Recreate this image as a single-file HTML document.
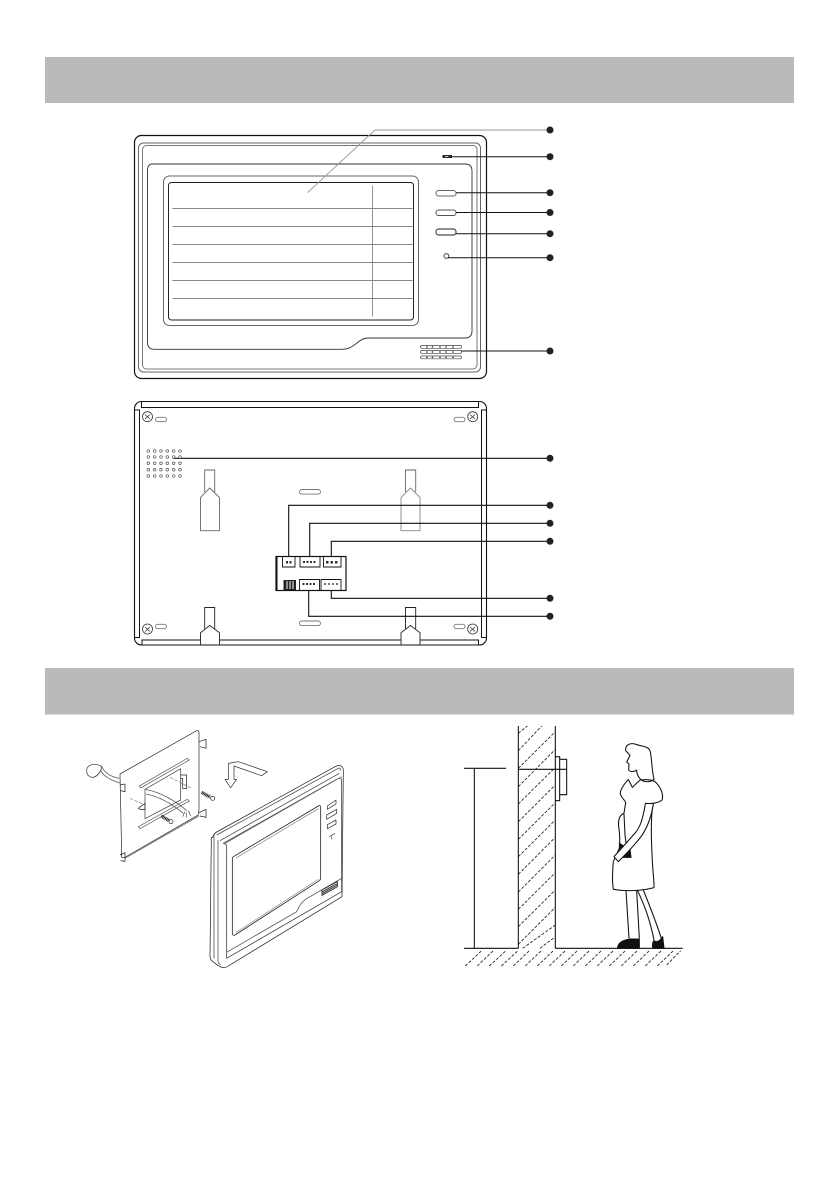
<!DOCTYPE html>
<html><head><meta charset="utf-8"><style>html,body{margin:0;padding:0;background:#fff}svg{display:block}</style></head>
<body>
<svg xmlns="http://www.w3.org/2000/svg" width="840" height="1192" viewBox="0 0 840 1192">
<rect width="840" height="1192" fill="#fff"/>
<rect x="45" y="57" width="749" height="46" fill="#bababa"/>
<rect x="45" y="668" width="749" height="46.5" fill="#bababa"/>

<!-- FRONT -->
<g fill="none" stroke="#111" stroke-width="1">
<rect x="134.5" y="135.5" width="352" height="243" rx="7" stroke-width="1.2"/>
<rect x="138.5" y="143" width="342" height="229" rx="5" stroke="#666"/>
<rect x="142.5" y="145.5" width="334.5" height="223.5" rx="4" stroke="#777"/>
<path d="M152 164H465Q472 164 472 171V331Q472 338 465 338H368C358 338 355 349.3 342 349.3H154Q147.5 349.3 147.5 342V171Q147.5 164 152 164Z" stroke="#333" stroke-width=".9"/>
<rect x="163.5" y="176" width="255" height="149.5" rx="6" stroke="#666"/>
<rect x="168.5" y="182.5" width="245" height="137.5" rx="3" stroke="#222"/>
<g stroke="#888" stroke-width=".9">
<path d="M172.5 208.5H412.5M172.5 226.5H412.5M172.5 244.5H412.5M172.5 262.5H412.5M172.5 280.5H412.5M172.5 298.5H412.5M372.5 185.5V316.5"/>
<path d="M307.5 192.7L375 130H550" stroke="#999"/>
</g>
<rect x="436" y="190.5" width="20" height="5.5" rx="2.5" stroke="#666"/>
<rect x="436" y="210" width="20" height="5.5" rx="2.5" stroke="#555"/>
<rect x="436" y="229" width="20" height="6" rx="2.5" stroke="#222"/>
<circle cx="446.4" cy="256" r="2.4" stroke="#444"/>
<path d="M447 156.7H550M456 192.7H550M456 212.5H550M456 233.7H550M448 257.7H550M461 351H550"/>
<g stroke="#444" stroke-width=".7">
<rect x="420.5" y="345.5" width="41" height="2.8" rx="1.4"/>
<rect x="420.5" y="350.5" width="41" height="2.8" rx="1.4"/>
<rect x="420.5" y="356" width="41" height="2.8" rx="1.4"/>
</g>
</g>
<rect x="442.5" y="155" width="9.5" height="3" fill="#222"/><rect x="445" y="156" width="3.5" height="1" fill="#ccc"/>
<g fill="#222">
<circle cx="550" cy="130" r="3.5"/><circle cx="550" cy="156.7" r="3.5"/><circle cx="550" cy="192.7" r="3.5"/><circle cx="550" cy="212.5" r="3.5"/><circle cx="550" cy="233.7" r="3.5"/><circle cx="550" cy="257.7" r="3.5"/><circle cx="550" cy="351" r="3.5"/>
</g>
<g fill="#555">
<circle cx="427" cy="347" r=".9"/><circle cx="432.5" cy="347" r=".9"/><circle cx="440" cy="347" r=".9"/><circle cx="446" cy="347" r=".9"/><circle cx="453" cy="347" r=".9"/>
<circle cx="427" cy="352" r=".9"/><circle cx="432.5" cy="352" r=".9"/><circle cx="440" cy="352" r=".9"/><circle cx="446" cy="352" r=".9"/><circle cx="453" cy="352" r=".9"/>
<circle cx="427" cy="357.4" r=".9"/><circle cx="432.5" cy="357.4" r=".9"/><circle cx="440" cy="357.4" r=".9"/><circle cx="446" cy="357.4" r=".9"/><circle cx="453" cy="357.4" r=".9"/>
</g>

<!-- BACK -->
<g fill="none" stroke="#111" stroke-width="1">
<rect x="134.5" y="401.5" width="352" height="243.5" rx="7" stroke-width="1.1"/>
<path d="M141.5 401.5V407.5H478.5V401.5M134.5 410H139.5V637.5H134.5M486.5 410H481.5V637.5H486.5M142 645V640H200.5M219.5 640H401M420 640H478.5V645"/>
<g stroke="#333" stroke-width=".8">
<circle cx="147.5" cy="416.7" r="5"/><circle cx="472.7" cy="416.7" r="5"/><circle cx="147.5" cy="629" r="5"/><circle cx="472.7" cy="629" r="5"/>
<path d="M145 414.5l5 4.5M150 414.5l-5 4.5M470 414.5l5 4.5M475 414.5l-5 4.5M145 627l5 4.5M150 627l-5 4.5M470 627l5 4.5M475 627l-5 4.5"/>
</g>
<g stroke="#777" stroke-width=".9">
<rect x="155.5" y="417.3" width="11" height="4.4" rx="2.2"/><rect x="454" y="417.3" width="11" height="4.4" rx="2.2"/>
<rect x="155.5" y="624.3" width="11" height="4.4" rx="2.2"/><rect x="454" y="624.3" width="11" height="4.4" rx="2.2"/>
<rect x="299.5" y="489.5" width="21" height="4.6" rx="2.3"/><rect x="299.5" y="621" width="21" height="4.6" rx="2.3"/>
</g>
<g stroke="#666" stroke-width=".9">
<path d="M204.7 492V470H214.7V492"/>
<path d="M209.7 488L219.5 497.5V530.7H200.5V497.5Z"/>
<path d="M405.5 492V470H415.7V492"/>
<path d="M410.5 488L420 497.5V530.7H401V497.5Z" stroke="#888"/>
<path d="M204.7 629V607.5H214.7V629" stroke="#222"/>
<path d="M405.5 629V607.5H415.7V629" stroke="#222"/>
</g>
<path d="M200.5 645V632.7L209.7 625.5L219.5 632.7V645M401 645V632.7L410.5 625.5L420 632.7V645" stroke="#333"/>
<rect x="276" y="556.5" width="70" height="34" stroke-width="1.2"/>
<path d="M276.5 556.5V590.5" stroke-width="2"/>
<g stroke-width=".9">
<path d="M282.5 556.5V567H295V556.5M300 556.5V567H320V556.5M323.5 556.5V567H341V556.5M299.5 590.5V579.5H319.5V590.5M321 590.5V579.5H341V590.5"/>
</g>
<path d="M173 458.3H550M288.7 556V505.3H550M309.7 556V523.3H550M331.3 556V541.3H550M331.3 590V598.3H550M308.7 590V616.3H550" stroke-width="1.1"/>
</g>
<rect x="283.5" y="580" width="12.5" height="10" fill="#222"/>
<path d="M287 581V589M290 581V589M293 581V589" stroke="#fff" stroke-width="1"/>
<g fill="#333">
<rect x="286" y="561" width="2" height="2.5"/><rect x="289.5" y="561" width="2" height="2.5"/>
<rect x="303" y="561" width="2" height="2"/><rect x="306.5" y="561" width="2" height="2"/><rect x="310" y="561" width="2" height="2"/><rect x="313.5" y="561" width="2" height="2"/>
<rect x="326" y="561" width="2.5" height="2.5"/><rect x="330.5" y="561" width="2.5" height="2.5"/><rect x="335" y="561" width="2.5" height="2.5"/>
<rect x="302.5" y="583" width="2" height="2"/><rect x="306" y="583" width="2" height="2"/><rect x="309.5" y="583" width="2" height="2"/><rect x="313" y="583" width="2" height="2"/>
<rect x="324" y="583" width="2" height="2" fill="#777"/><rect x="328" y="583" width="2" height="2" fill="#777"/><rect x="332" y="583" width="2" height="2" fill="#777"/><rect x="336" y="583" width="2" height="2" fill="#777"/>
</g>
<g fill="#222">
<circle cx="550" cy="458.3" r="3.5"/><circle cx="550" cy="505.3" r="3.5"/><circle cx="550" cy="523.3" r="3.5"/><circle cx="550" cy="541.3" r="3.5"/><circle cx="550" cy="598.3" r="3.5"/><circle cx="550" cy="616.3" r="3.5"/>
</g>
<g fill="#fff" stroke="#555" stroke-width=".7">
<circle cx="148.3" cy="451" r="1.3"/><circle cx="154.7" cy="451" r="1.3"/><circle cx="161" cy="451" r="1.3"/><circle cx="167.3" cy="451" r="1.3"/><circle cx="173.7" cy="451" r="1.3"/><circle cx="180" cy="451" r="1.3"/>
<circle cx="148.3" cy="457" r="1.3"/><circle cx="154.7" cy="457" r="1.3"/><circle cx="161" cy="457" r="1.3"/><circle cx="167.3" cy="457" r="1.3"/><circle cx="173.7" cy="457" r="1.3"/><circle cx="180" cy="457" r="1.3"/>
<circle cx="148.3" cy="463.3" r="1.3"/><circle cx="154.7" cy="463.3" r="1.3"/><circle cx="161" cy="463.3" r="1.3"/><circle cx="167.3" cy="463.3" r="1.3"/><circle cx="173.7" cy="463.3" r="1.3"/><circle cx="180" cy="463.3" r="1.3"/>
<circle cx="148.3" cy="469.7" r="1.3"/><circle cx="154.7" cy="469.7" r="1.3"/><circle cx="161" cy="469.7" r="1.3"/><circle cx="167.3" cy="469.7" r="1.3"/><circle cx="173.7" cy="469.7" r="1.3"/><circle cx="180" cy="469.7" r="1.3"/>
<circle cx="148.3" cy="476" r="1.3"/><circle cx="154.7" cy="476" r="1.3"/><circle cx="161" cy="476" r="1.3"/><circle cx="167.3" cy="476" r="1.3"/><circle cx="173.7" cy="476" r="1.3"/><circle cx="180" cy="476" r="1.3"/>
</g>

<!-- INSTALL -->
<g transform="translate(70,720) scale(.33333)" fill="none" stroke="#333" stroke-width="2.2" stroke-linejoin="round">
<!-- plate -->
<path d="M150 162L380 32Q387 30 387 40V270L385 285L165 412L155 412V400L150 162Z"/>
<path d="M165 415L387 288" stroke="#777"/>
<path d="M387 65L408 58V85L390 80M387 278L408 268V292L390 288M150 195L165 192V215L152 212M150 405L165 398V424L152 422" stroke="#222"/>
<!-- slots -->
<path d="M208 198L352 115L358 120L212 204ZM205 320L352 238L358 243L210 326Z" stroke="#666"/>
<path d="M225 208L332 146V240L225 296Z" stroke="#444"/>
<path d="M332 165H350V205H338V175H332" stroke="#222"/>
<path d="M205 265L225 250V268H210Z" stroke="#222"/>
<path d="M180 235L225 255M300 172L365 205" stroke="#888" stroke-dasharray="10 5"/>
<!-- cable -->
<path d="M225 208C270 215 320 245 350 272M228 222C270 230 310 255 340 280" stroke="#555"/>
<path d="M152 190C120 180 95 165 92 150M148 175C120 170 100 155 95 138" stroke="#555"/>
<path d="M50 152C50 135 70 128 92 137C100 145 85 168 70 172C58 172 50 165 50 152Z" stroke="#333"/>
<path d="M345 275L338 290M350 278L350 292M355 272L362 288" stroke="#444" stroke-width="2"/>
<!-- screws -->
<path d="M395 217L420 231M274 288L298 302" stroke="#222" stroke-width="10" stroke-dasharray="3 1.5"/>
<circle cx="428" cy="235" r="6"/><circle cx="303" cy="305" r="6"/>
<!-- arrow -->
<path d="M475 130L505 125L592 155L575 167L492 138V178H500L482 203L465 178H475Z" stroke-width="2.2"/>
<!-- monitor -->
<path d="M428 352Q430 342 440 336L795 140Q815 130 820 148L816 530L475 738Q462 748 445 737L425 722Q420 716 420 708L424 352Z" stroke="#222"/>
<path d="M440 345L805 145Q812 142 812 152M444 360V722Q444 730 452 735M432 345V715" stroke="#444"/>
<path d="M460 370L800 178Q815 170 815 182V515L470 715V378Q470 372 460 370Z" stroke="#333"/>
<path d="M450 362L808 160" stroke="#444"/>
<path d="M462 372L815 170" stroke="#666"/>
<path d="M490 410L745 258Q752 254 752 262V474Q752 480 745 484L495 645Q487 648 487 640V416Q487 412 490 410Z" stroke="#222" stroke-width="2.4"/>
<path d="M498 414L745 266M497 638L745 478" stroke="#666" stroke-width="1.6"/>
<path d="M470 697L680 575Q695 540 720 530L815 475" stroke="#444"/>
<path d="M756 510L802 484V500L756 526ZM756 516L802 490M756 521L802 495" stroke="#333" stroke-width="3"/>
<path d="M772 258L798 240V252L772 268ZM770 285L800 268V280L770 298ZM772 314L798 300V312L772 326ZM778 350L795 340M785 350V358" stroke="#333"/>
</g>

<!-- WALL + PERSON -->
<g transform="translate(450,720) scale(.33333)" fill="none" stroke="#111" stroke-width="3.2" stroke-linejoin="round">
<path d="M205 18V685M316 18V685M42 685H205M316 685H698"/>
<path d="M42 145H168M73 145V685M205 148H350"/>
<path d="M316 110H329V242H316M329 118H350V224H329"/>
<g stroke-width="2.6" stroke-dasharray="9 5" stroke="#222">
<path d="M205 40L232 18M205 92L275 18M205 145L316 35M205 200L316 88M205 252L316 142M205 305L316 195M205 358L316 248M205 410L316 300M205 463L316 352M205 516L316 405M205 568L316 458M205 620L316 510M205 673L316 562M218 685L316 615M270 685L316 650"/>
<path d="M46 738L95 692M82 738L130 692M118 738L168 692M154 738L204 692M190 738L238 692M226 738L274 692M262 738L310 692M298 738L346 692M334 738L382 692M370 738L418 692M406 738L454 692M442 738L490 692M478 738L526 692M514 738L562 692M550 738L598 692M586 738L634 692M622 738L670 692M650 735L692 692"/>
</g>
<!-- figure -->
<path d="M527 92C525 75 540 68 555 72C575 80 595 78 600 92C606 115 605 150 612 178C600 188 580 188 570 176C563 168 560 160 560 150C552 156 540 156 536 150L537 132L530 126L540 106L527 92Z"/>
<path d="M535 178L547 202L570 180C590 178 610 178 618 188C632 202 642 225 636 240C625 250 600 252 585 250M610 250C600 290 604 400 612 490L612 503C580 512 530 515 490 508C485 480 488 450 490 425"/>
<path d="M535 178C520 195 510 210 511 222C515 235 525 240 527 248L522 280C510 285 504 295 506 320C510 345 510 365 508 385L490 425"/>
<path d="M522 282L525 345L530 385"/>
<path d="M508 370L540 390L543 412H512Z" fill="#111"/>
<path d="M586 252C578 300 570 325 550 345C530 368 510 390 492 410L505 425C530 400 560 370 580 340C595 315 605 285 610 252" fill="#fff"/>
<path d="M528 512L537 655M560 512L568 655M563 512C585 560 600 600 612 660M580 510C600 560 620 610 634 655"/>
<path d="M503 685C503 668 520 660 540 657H568V685Z" fill="#111"/>
<path d="M608 685C606 672 610 662 612 662C620 668 628 665 638 650L642 685Z" fill="#111"/>
</g>
</svg>
</body></html>
